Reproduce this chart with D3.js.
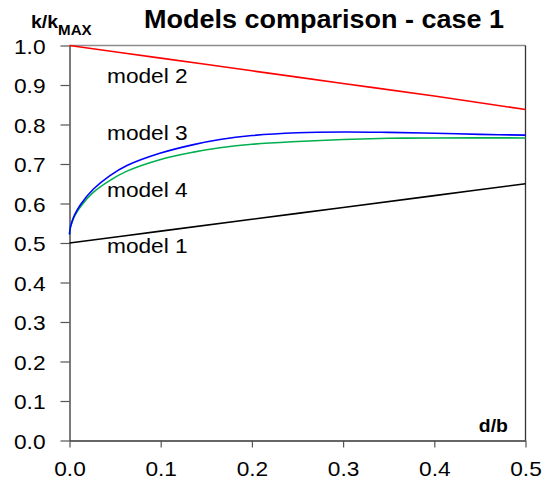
<!DOCTYPE html>
<html>
<head>
<meta charset="utf-8">
<script src="https://cdn.jsdelivr.net/npm/d3@7"></script>
<style>
  html, body { margin: 0; padding: 0; background: #fff; }
  svg { display: block; }
  text { font-family: "Liberation Sans", Arial, sans-serif; fill: #000; }
</style>
</head>
<body>
<svg id="chart" width="544" height="486"></svg>
<script>
// ---- data ----
const xTicks = [0.0, 0.1, 0.2, 0.3, 0.4, 0.5];
const yTicks = [0.0, 0.1, 0.2, 0.3, 0.4, 0.5, 0.6, 0.7, 0.8, 0.9, 1.0];

const model1X = [0.0, 0.1, 0.2, 0.3, 0.4, 0.5];
const model1Y = [0.500, 0.530, 0.560, 0.590, 0.620, 0.650];

const model2X = [0.0, 0.1, 0.2, 0.3, 0.4, 0.5];
const model2Y = [1.000, 0.968, 0.936, 0.904, 0.872, 0.838];

const model3X = [0.0, 0.001, 0.003, 0.006, 0.012, 0.026, 0.044, 0.063, 0.099, 0.136, 0.165, 0.2, 0.25, 0.3, 0.35, 0.4, 0.45, 0.5];
const model3Y = [0.522, 0.540, 0.556, 0.573, 0.597, 0.636, 0.670, 0.696, 0.727, 0.749, 0.762, 0.772, 0.779, 0.781, 0.780, 0.778, 0.775, 0.773];

const model4X = [0.0, 0.001, 0.003, 0.006, 0.012, 0.026, 0.044, 0.063, 0.099, 0.136, 0.165, 0.2, 0.25, 0.3, 0.35, 0.4, 0.5];
const model4Y = [0.522, 0.539, 0.554, 0.570, 0.592, 0.628, 0.658, 0.682, 0.711, 0.730, 0.741, 0.750, 0.757, 0.762, 0.765, 0.766, 0.766];

const seriesNames = ["model 1", "model 2", "model 3", "model 4"];
const seriesColors = ["#000000", "#ff0000", "#0000ff", "#00b050"];

// ---- layout ----
const svg = d3.select("#chart");
const mLeft = 69.5, mRight = 525.5, mTop = 45.5, mBottom = 440.5;
const STRETCH = 1.08;

const x = d3.scaleLinear().domain([0, 0.5]).range([mLeft, mRight]);
const y = d3.scaleLinear().domain([0, 1]).range([mBottom, mTop]);

// frame: top & right
svg.append("line").attr("x1", mLeft).attr("x2", mRight).attr("y1", mTop).attr("y2", mTop)
  .attr("stroke", "#8c8c8c").attr("stroke-width", 1.3);
svg.append("line").attr("x1", mRight).attr("x2", mRight).attr("y1", mTop).attr("y2", mBottom)
  .attr("stroke", "#333").attr("stroke-width", 1.3);

// axes
const yAxis = svg.append("g").attr("transform", `translate(${mLeft},0)`)
  .call(d3.axisLeft(y).tickValues(yTicks).tickFormat(d3.format(".1f")).tickSize(9).tickSizeOuter(0).tickPadding(14));
const xAxis = svg.append("g").attr("transform", `translate(0,${mBottom})`)
  .call(d3.axisBottom(x).tickValues(xTicks).tickFormat(d3.format(".1f")).tickSize(7).tickSizeOuter(0).tickPadding(14));

[yAxis, xAxis].forEach(g => {
  g.select(".domain").attr("stroke", "#333").attr("stroke-width", 1.3);
  g.selectAll(".tick line").attr("stroke", "#555").attr("stroke-width", 1.2);
  g.selectAll(".tick text").attr("font-size", 21).attr("font-family", "Liberation Sans, Arial, sans-serif").attr("fill", "#000");
});
yAxis.selectAll(".tick text").attr("x", -24).attr("dy", "0.36em");
xAxis.selectAll(".tick text").attr("dy", "0.7em");

// lines
const line = d3.line().x(d => x(d[0])).y(d => y(d[1])).curve(d3.curveCatmullRom.alpha(0.5));
const series = [
  d3.zip(model1X, model1Y),
  d3.zip(model2X, model2Y),
  d3.zip(model3X, model3Y),
  d3.zip(model4X, model4Y)
];
[3, 2, 1, 0].forEach(i => {
  svg.append("path").datum(series[i]).attr("d", line)
    .attr("fill", "none").attr("stroke", seriesColors[i]).attr("stroke-width", 1.6);
});

// model labels
const labelPos = [[107, 252.7], [107, 82.5], [107, 140], [107, 196.7]];
seriesNames.forEach((n, i) => {
  svg.append("text").attr("x", labelPos[i][0]).attr("y", labelPos[i][1])
    .attr("font-size", 21).text(n);
});

// title
svg.append("text").attr("x", 324).attr("y", 27.5).attr("text-anchor", "middle")
  .attr("font-size", 25).attr("font-weight", "bold").text("Models comparison - case 1");

// y axis title
const yt = svg.append("text").attr("x", 31).attr("y", 28).attr("font-weight", "bold").attr("font-size", 18);
yt.append("tspan").text("k/k");
yt.append("tspan").attr("font-size", 14).attr("dy", 7).text("MAX");

// x axis title
svg.append("text").attr("x", 508).attr("y", 432).attr("text-anchor", "end")
  .attr("font-weight", "bold").attr("font-size", 18).text("d/b");

// horizontal stretch of text to match reference glyph widths
svg.selectAll("text").each(function() {
  const w = this.getComputedTextLength();
  if (w > 0) {
    d3.select(this).attr("textLength", w * STRETCH).attr("lengthAdjust", "spacingAndGlyphs");
  }
});
</script>
</body>
</html>
